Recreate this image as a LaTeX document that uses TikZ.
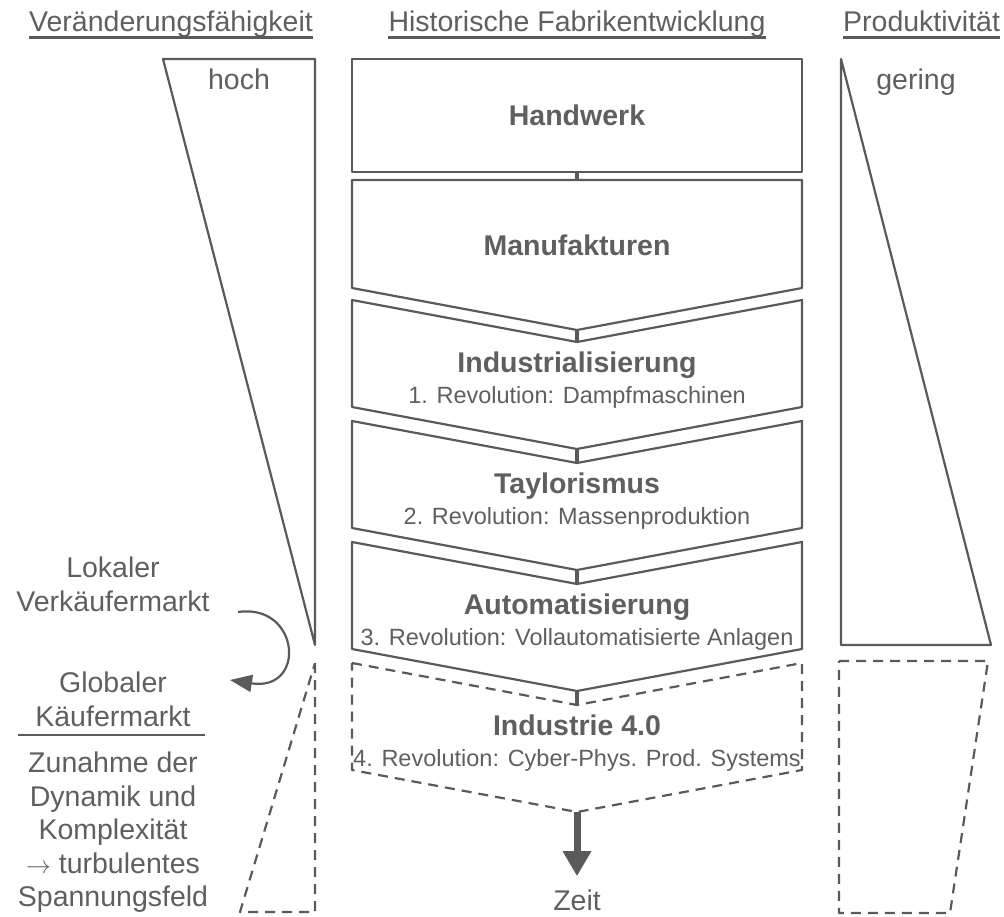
\documentclass[tikz,border=0pt]{standalone}
\usepackage{fontspec}
\setmainfont{Liberation Sans}
\usetikzlibrary{arrows.meta, positioning}
\definecolor{fgray}{HTML}{5A5A5A}
\definecolor{tgray}{HTML}{5F5F5F}

\begin{document}
\begin{tikzpicture}[
  x=1pt, y=-1pt,
  every node/.style={text=tgray, inner sep=0pt},
  lbl/.style={font=\fontsize{28.5}{33.5}\selectfont},
  title/.style={lbl, anchor=base, append after command={([yshift=-5.5pt]\tikzlastnode.base west) edge[draw=fgray, line width=2.2pt] ([yshift=-5.5pt]\tikzlastnode.base east)}},
  stagehead/.style={font=\fontsize{28.5}{33.5}\selectfont\bfseries},
  stagesub/.style={font=\fontsize{23.5}{28}\selectfont},
  stage/.style={draw=fgray, line width=2.2pt, line join=round},
  stagedash/.style={stage, dash pattern=on 10pt off 7pt},
  wedge/.style={draw=fgray, line width=2.2pt, line join=round},
  wedgedash/.style={wedge, dash pattern=on 10pt off 7pt},
  stub/.style={draw=fgray, line width=4pt},
  timearrow/.style={draw=fgray, line width=7pt, -{Triangle[width=27pt, length=25pt]}},
  turn/.style={draw=fgray, line width=2.2pt, -{Triangle[width=17pt, length=22pt]}},
]
\useasboundingbox (0,0) rectangle (1004,917);

% column titles
\node[title] (t-ver) at (171,32) {Veränderungsfähigkeit};
\node[title] (t-fab) at (577,32) {Historische Fabrikentwicklung};
\node[title, anchor=base west] (t-pro) at (843,32) {Produktivität};

% factory stages
\node[stage, stagehead, minimum width=450pt, minimum height=113pt] (hw) at (577,115.5) {Handwerk};
\draw[stage] (352,180) -- (802,180) -- (802,288) -- (577,330) -- (352,288) -- cycle;
\coordinate (man-in) at (577,180);
\coordinate (man-out) at (577,330);
\node[stagehead] (man) at (577,245) {Manufakturen};

\foreach \name/\top/\head/\sub/\sty in {
  ind/300/Industrialisierung/{1. Revolution: Dampfmaschinen}/stage,
  tay/421/Taylorismus/{2. Revolution: Massenproduktion}/stage,
  aut/542/Automatisierung/{3. Revolution: Vollautomatisierte Anlagen}/stage,
  ifv/663/Industrie 4.0/{4. Revolution: Cyber-Phys. Prod. Systems}/stagedash}
{
  \draw[\sty] (352,\top) -- (577,\top+42) -- (802,\top) -- (802,\top+107)
    -- (577,\top+149) -- (352,\top+107) -- cycle;
  \coordinate (\name-in) at (577,\top+42);
  \coordinate (\name-out) at (577,\top+149);
  \node[stagehead, anchor=base] (\name) at (577,\top+72) {\head};
  \node[stagesub, anchor=base] (\name-sub) at (577,\top+103) {\sub};
}

\draw[stub] (hw.south) -- (man-in);
\draw[stub] (man-out) -- (ind-in);
\draw[stub] (ind-out) -- (tay-in);
\draw[stub] (tay-out) -- (aut-in);
\draw[stub] (aut-out) -- (ifv-in);

\node[lbl, anchor=base] (zeit) at (577,910) {Zeit};
\draw[timearrow, shorten >=13pt] (ifv-out) -- (zeit.north);

% left wedge
\draw[wedge] (163,59) -- (315,59) -- (315,645) -- cycle;
\draw[wedgedash] (315,663) -- (315,912) -- (240,912) -- cycle;
\node[lbl, anchor=base] (hoch) at (239,90) {hoch};

% right wedge
\draw[wedge] (841,59) -- (991,645) -- (841,645) -- cycle;
\draw[wedgedash] (839,661) -- (988,661) -- (950,913) -- (839,913) -- cycle;
\node[lbl, anchor=base] (gering) at (916,90) {gering};

% market shift
\node[lbl, align=center, anchor=north] (lok) at (113,557) {Lokaler\\Verkäufermarkt};
\node[lbl, align=center, anchor=north] (glob) at (113,672) {Globaler\\Käufermarkt};
\draw[wedge] (18,735) -- (205,735);
\node[lbl, align=center, anchor=north] (dyn) at (113,752) {Zunahme der\\Dynamik und\\Komplexität\\$\rightarrow$ turbulentes\\Spannungsfeld};
\coordinate (turn-a) at (238,612);
\coordinate (turn-b) at (230,680);
\draw[turn] (turn-a) .. controls (300,603) and (307,692) .. (turn-b);
\end{tikzpicture}
\end{document}
